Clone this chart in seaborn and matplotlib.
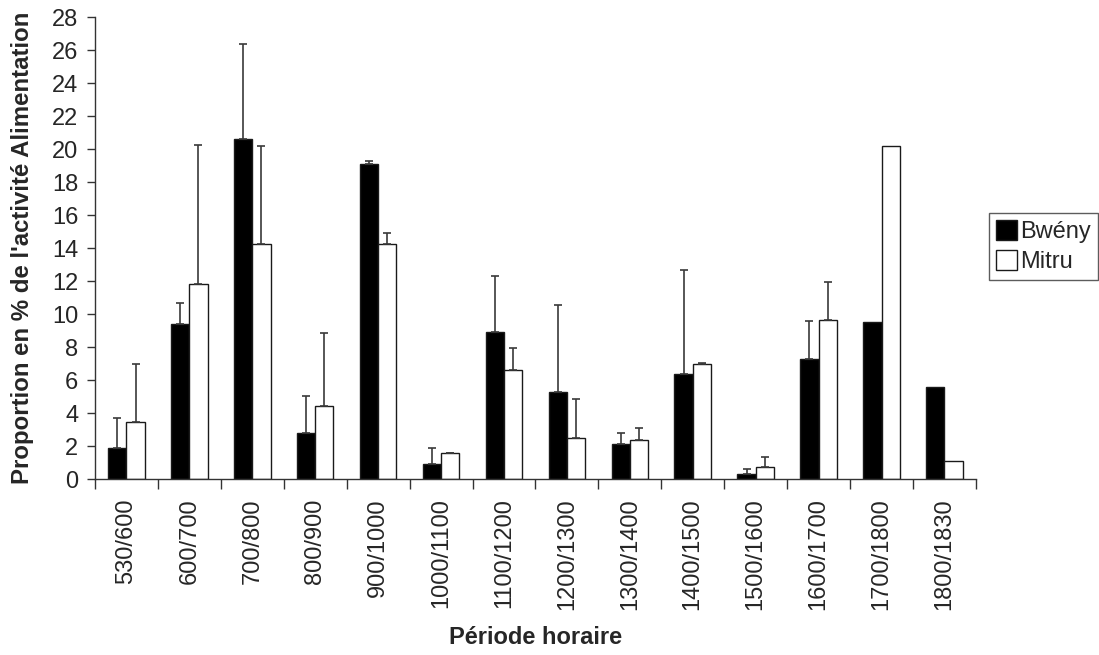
import pandas as pd
import matplotlib.pyplot as plt
import seaborn as sns
import numpy as np

sns.set_style("white")
plt.rcParams["font.family"] = ["Liberation Sans", "DejaVu Sans"]

# Data
periodes = [
    "530/600", "600/700", "700/800", "800/900", "900/1000", "1000/1100",
    "1100/1200", "1200/1300", "1300/1400", "1400/1500", "1500/1600",
    "1600/1700", "1700/1800", "1800/1830",
]
bweny = [1.9, 9.37, 20.6, 2.81, 19.07, 0.91, 8.93, 5.28, 2.1, 6.34, 0.28, 7.25, 9.5, 5.55]
mitru = [3.44, 11.8, 14.27, 4.41, 14.27, 1.6, 6.6, 2.47, 2.37, 6.96, 0.71, 9.62, 20.19, 1.11]
# upper error bars (NaN = no bar)
err_bweny = [1.82, 1.3, 5.78, 2.25, 0.19, 0.99, 3.36, 5.27, 0.71, 6.31, 0.35, 2.31, np.nan, np.nan]
err_mitru = [3.5, 8.45, 5.92, 4.44, 0.63, 0.0, 1.33, 2.37, 0.7, 0.09, 0.6, 2.31, np.nan, np.nan]

df = pd.DataFrame({
    "periode": periodes * 2,
    "valeur": bweny + mitru,
    "site": ["Bwény"] * len(periodes) + ["Mitru"] * len(periodes),
})

fig, ax = plt.subplots(figsize=(10.99, 6.55), dpi=100)
fig.subplots_adjust(left=0.0864, right=0.888, bottom=0.2687, top=0.974)

sns.barplot(
    data=df, x="periode", y="valeur", hue="site",
    palette=["black", "white"], width=0.58, errorbar=None,
    edgecolor="#1a1a1a", linewidth=1.0, ax=ax,
)

# upper-only error bars on each bar
for container, errs in zip(ax.containers, [err_bweny, err_mitru]):
    for bar, e in zip(container, errs):
        if np.isnan(e):
            continue
        xc = bar.get_x() + bar.get_width() / 2
        h = bar.get_height()
        ax.errorbar(xc, h, yerr=[[0], [e]], fmt="none", ecolor="#3a3a3a",
                    elinewidth=1.2, capsize=2.6, capthick=1.2)

ax.set_xlim(-0.5, len(periodes) - 0.5)
ax.set_ylim(0, 28)
ax.set_yticks(range(0, 29, 2))
ax.tick_params(axis="y", labelsize=17, length=6, width=1, color="#333333",
               direction="out", left=True, pad=6)

# labels at category centres, tick marks at category boundaries
ax.set_xticks(range(len(periodes)))
ax.set_xticklabels(periodes, rotation=90)
ax.set_xticks(np.arange(-0.5, len(periodes), 1), minor=True)
ax.tick_params(axis="x", which="major", labelsize=17, length=0, pad=14)
ax.tick_params(axis="x", which="minor", length=7, width=1, color="#333333",
               direction="out", bottom=True)

sns.despine(ax=ax)
for side in ["left", "bottom"]:
    ax.spines[side].set_color("#333333")
    ax.spines[side].set_linewidth(1.0)

ax.set_ylabel("Proportion en % de l'activité Alimentation", fontsize=17.3,
              fontweight="bold", labelpad=13)
ax.set_xlabel("Période horaire", fontsize=17, fontweight="bold", labelpad=11)

leg = ax.legend(
    loc="upper left", bbox_to_anchor=(1.015, 0.576), borderaxespad=0,
    fontsize=17, frameon=True, fancybox=False, handlelength=0.9,
    handleheight=0.9, handletextpad=0.1, labelspacing=0.3,
    borderpad=0.3,
)
leg.get_frame().set_edgecolor("#333333")
leg.get_frame().set_linewidth(1.0)

plt.savefig("out.png", dpi=100)
